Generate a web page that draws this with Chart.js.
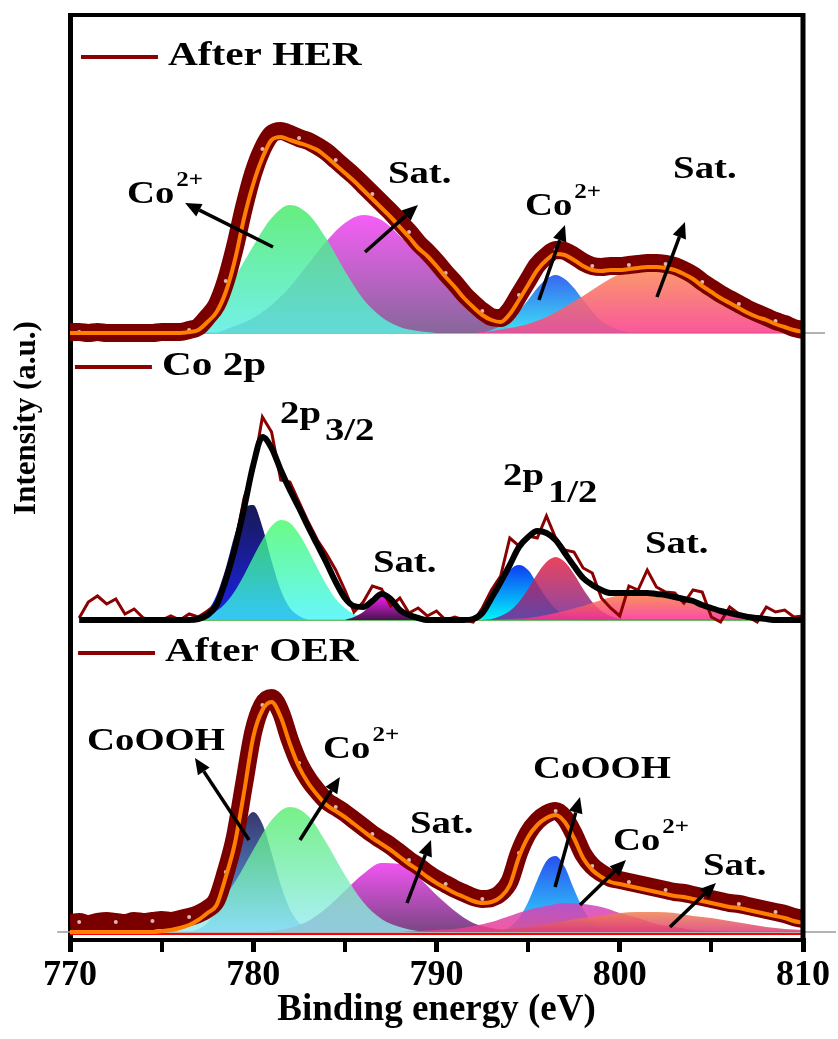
<!DOCTYPE html>
<html>
<head>
<meta charset="utf-8">
<script src="https://cdn.jsdelivr.net/npm/chart.js@4.4.1/dist/chart.umd.min.js"></script>
<style>
  html, body { margin: 0; padding: 0; background: #fff; }
  canvas { display: block; }
</style>
</head>
<body>
<canvas id="xps" width="838" height="1039"></canvas>
<script>
// binding energy grid for the measured spectra and their envelopes (eV)
const energy = [
  770, 770.5, 771, 771.5, 772, 772.5, 773, 773.5, 774, 774.5,
  775, 775.5, 776, 776.5, 777, 777.5, 778, 778.5, 779, 779.5,
  780, 780.5, 781, 781.5, 782, 782.5, 783, 783.5, 784, 784.5,
  785, 785.5, 786, 786.5, 787, 787.5, 788, 788.5, 789, 789.5,
  790, 790.5, 791, 791.5, 792, 792.5, 793, 793.5, 794, 794.5,
  795, 795.5, 796, 796.5, 797, 797.5, 798, 798.5, 799, 799.5,
  800, 800.5, 801, 801.5, 802, 802.5, 803, 803.5, 804, 804.5,
  805, 805.5, 806, 806.5, 807, 807.5, 808, 808.5, 809, 809.5,
  810
];

// vertical stacking of the three spectra (a.u.)
const herOffset = 607;
const co2pOffset = 320;
const oerOffset = 8;

// ---- After HER ----
const herRaw = [
  1, 1, 0, 1, 0, 0, 0, 0, 0, 0,
  1, 1, 1, 3, 6, 16, 28, 52, 86, 126,
  160, 184, 199, 202, 199, 195, 192, 187, 181, 173,
  165, 157, 148, 139, 130, 121, 111, 101, 90, 81,
  71, 60, 50, 39, 30, 22, 16, 15, 23, 38,
  53, 68, 77, 83, 82, 77, 71, 67, 66, 67,
  67, 68, 69, 70, 70, 69, 67, 63, 58, 51,
  45, 39, 34, 29, 24, 20, 16, 12, 9, 5,
  3
];
const herFit = [
  0, 0, 0, 0, 0, 0, 0, 0, 0, 0,
  0, 0, 0, 1, 3, 11, 21, 41, 73, 115,
  149, 175, 193, 196, 193, 190, 187, 183, 176, 168,
  160, 152, 143, 134, 125, 116, 106, 96, 85, 77,
  67, 56, 46, 35, 26, 18, 13, 11, 19, 33,
  48, 63, 73, 79, 78, 73, 67, 63, 62, 63,
  63, 64, 65, 66, 66, 65, 63, 59, 54, 47,
  41, 35, 30, 25, 20, 16, 13, 9, 6, 3,
  1
];
const herCo2a = [[774, 0], [775, 2], [776, 5], [777, 13], [778, 30], [779, 56], [780, 87], [781, 115], [782, 128], [783, 119], [784, 94], [785, 62], [786, 34], [787, 16], [788, 6], [789, 2], [790, 0]];
const herSata = [[778, 0], [779, 7], [780, 15], [781, 28], [782, 46], [783, 69], [784, 92], [785, 110], [786, 118], [787, 113], [788, 97], [789, 78], [790, 58], [791, 38], [792, 22], [793, 11], [794, 5], [795, 1], [796, 0]];
const herCo2b = [[792.5, 0], [793, 3], [794, 12], [795, 33], [795.5, 45], [796, 54], [796.5, 58], [797, 54], [797.5, 45], [798, 33], [799, 12], [800, 3], [801, 0]];
const herSatb = [[792, 0], [793, 2], [794, 5], [795, 9], [796, 16], [797, 26], [798, 37], [799, 49], [800, 59], [801, 65], [802, 65], [803, 59], [804, 49], [805, 37], [806, 26], [807, 16], [808, 9], [809, 5], [810, 2]];

// ---- Co 2p ----
const co2pRaw = [
  null, 2, 18, 24, 16, 21, 6, 11, 2, 0,
  0, 4, 0, 6, 3, 9, 16, 45, 74, 122,
  150, 203, 188, 140, 138, 118, 98, 80, 66, 50,
  30, 8, 18, 34, 31, 14, 22, 7, 12, 4,
  9, 0, 3, 0, -2, 12, 30, 44, 82, 74,
  84, 82, 104, 82, 70, 68, 52, 47, 22, 12,
  4, 34, 30, 50, 33, 28, 27, 17, 30, 28,
  3, -2, 13, 6, 3, -2, 13, 8, 10, 3,
  4
];
const co2pFit = [
  null, 0, 0, 0, 0, 0, 0, 0, 0, 0,
  0, 0, 0, 0, 1, 5, 15, 40, 72, 112,
  155, 183, 172, 150, 130, 112, 93, 75, 57, 38,
  22, 14, 13, 19, 26, 21, 10, 5, 2, 0,
  0, 0, 0, 0, 1, 7, 22, 38, 55, 73,
  83, 89, 87, 80, 67, 54, 42, 35, 30, 27,
  27, 27, 27, 27, 26, 25, 23, 21, 19, 15,
  12, 9, 7, 5, 3, 2, 1, 0, 0, 0,
  0
];
const co2pPeakA = [[776.5, 0], [777, 3], [777.5, 9], [778, 25], [778.5, 52], [779, 86], [779.5, 112], [780, 115], [780.5, 93], [781, 59], [781.5, 30], [782, 12], [782.5, 4], [783, 0]];
const co2pPeakB = [[776.5, 0], [777, 2], [777.5, 5], [778, 9], [778.5, 17], [779, 29], [779.5, 45], [780, 63], [780.5, 80], [781, 94], [781.5, 100], [782, 97], [782.5, 86], [783, 70], [783.5, 52], [784, 35], [784.5, 21], [785, 12], [785.5, 6], [786, 3], [786.5, 0]];
const co2pSatA = [[785, 0], [785.5, 3], [786, 8], [786.5, 17], [787, 23], [787.5, 20], [788, 12], [788.5, 5], [789, 2], [789.5, 0]];
const co2pPeakC = [[791.5, 0], [792, 4], [792.5, 11], [793, 22], [793.5, 36], [794, 50], [794.5, 55], [795, 50], [795.5, 36], [796, 22], [796.5, 11], [797, 4], [797.5, 1], [798, 0]];
const co2pPeakD = [[792.5, 0], [793, 1], [793.5, 4], [794, 9], [794.5, 18], [795, 31], [795.5, 46], [796, 58], [796.5, 63], [797, 58], [797.5, 46], [798, 31], [798.5, 18], [799, 9], [799.5, 4], [800, 1], [800.5, 0]];
const co2pSatB = [[793, 0], [794, 1], [795, 2], [796, 5], [797, 9], [798, 14], [799, 20], [800, 25], [801, 27], [802, 26], [803, 22], [804, 16], [805, 11], [806, 6], [807, 3], [808, 1], [809, 0]];

// ---- After OER ----
const oerRaw = [
  9, 10, 8, 10, 11, 10, 9, 11, 10, 11,
  12, 11, 13, 15, 18, 23, 32, 60, 95, 148,
  200, 227, 234, 220, 192, 169, 153, 141, 131, 125,
  119, 112, 105, 98, 92, 86, 79, 72, 66, 59,
  53, 48, 43, 39, 35, 33, 34, 39, 51, 79,
  99, 111, 118, 121, 114, 98, 78, 66, 59, 54,
  52, 50, 48, 46, 44, 42, 40, 39, 37, 35,
  33, 31, 29, 28, 26, 24, 22, 20, 18, 15,
  13
];
const oerFit = [
  0, 0, 0, 0, 0, 0, 0, 0, 0, 0,
  1, 2, 4, 7, 12, 19, 27, 55, 89, 140,
  195, 222, 230, 215, 188, 165, 149, 137, 127, 121,
  115, 108, 101, 94, 88, 82, 75, 68, 62, 55,
  49, 44, 39, 35, 31, 29, 30, 35, 47, 75,
  95, 107, 114, 117, 110, 94, 74, 62, 55, 50,
  48, 46, 44, 42, 40, 38, 36, 35, 33, 31,
  29, 27, 25, 24, 22, 20, 18, 16, 14, 11,
  9
];
const oerCoOOHa = [[776.5, 0], [777, 3], [777.5, 9], [778, 23], [778.5, 47], [779, 79], [779.5, 108], [780, 120], [780.5, 108], [781, 79], [781.5, 47], [782, 23], [782.5, 9], [783, 3], [783.5, 0]];
const oerCo2a = [[774, 0], [775, 1], [776, 4], [777, 11], [778, 26], [779, 50], [780, 82], [781, 112], [782, 125], [783, 116], [784, 89], [785, 57], [786, 30], [787, 13], [788, 5], [789, 1], [790, 0]];
const oerSata = [[780, 0], [781, 1], [782, 4], [783, 11], [784, 24], [785, 41], [786, 58], [787, 69], [788, 68], [789, 55], [790, 37], [791, 21], [792, 9], [793, 4], [794, 1], [795, 0]];
const oerCoOOHb = [[793, 0], [793.5, 1], [794, 5], [794.5, 14], [795, 30], [795.5, 52], [796, 71], [796.5, 76], [797, 65], [797.5, 43], [798, 23], [798.5, 9], [799, 3], [799.5, 1], [800, 0]];
const oerCo2b = [[788, 0], [789, 1], [790, 2], [791, 3], [792, 6], [793, 10], [794, 16], [795, 22], [796, 26], [797, 29], [798, 28], [799, 25], [800, 19], [801, 14], [802, 8], [803, 5], [804, 2], [805, 1], [806, 0]];
const oerSatb = [[789, 0], [791, 1], [792, 1], [793, 2], [794, 3], [795, 5], [796, 8], [797, 11], [798, 14], [799, 16], [800, 19], [801, 20], [802, 20], [803, 19], [804, 16], [805, 14], [806, 11], [807, 8], [808, 5], [809, 3], [810, 2]];

// baselines (energy span, level)
const herBase = [[770, 0], [811.2, 0]];
const co2pBase = [[776, 0], [809, 0]];
const oerBase = [[769.3, 0], [811.8, 0]];
const oerBaseRed = [[770, -2], [810, -2]];

const xTicks = [770, 780, 790, 800, 810];

// annotations, in data coordinates
const legendKeys = [
  [770.60, 774.80, herOffset + 276, 'After HER'],
  [770.27, 774.47, co2pOffset + 253, 'Co 2p'],
  [770.44, 774.64, oerOffset + 279, 'After OER']
];
const textLabels = [
  [773.11, herOffset + 130, 'co2', ''],
  [787.35, herOffset + 150, 'plain', 'Sat.'],
  [794.83, herOffset + 118, 'co2', ''],
  [802.91, herOffset + 155, 'plain', 'Sat.'],
  [781.46, co2pOffset + 197, 'sub', '3/2'],
  [793.63, co2pOffset + 135, 'sub', '1/2'],
  [786.53, co2pOffset + 48, 'plain', 'Sat.'],
  [801.38, co2pOffset + 67, 'plain', 'Sat.'],
  [770.93, oerOffset + 182, 'plain', 'CoOOH'],
  [783.81, oerOffset + 174, 'co2', ''],
  [788.55, oerOffset + 99, 'plain', 'Sat.'],
  [795.27, oerOffset + 154, 'plain', 'CoOOH'],
  [799.63, oerOffset + 82, 'co2', ''],
  [804.54, oerOffset + 57, 'plain', 'Sat.']
];
const arrows = [
  [781.08, herOffset + 86, 776.28, herOffset + 130],
  [786.10, herOffset + 81, 788.99, herOffset + 128],
  [795.59, herOffset + 33, 797.01, herOffset + 108],
  [802.03, herOffset + 36, 803.56, herOffset + 111],
  [779.77, oerOffset + 92, 776.82, oerOffset + 174],
  [782.55, oerOffset + 92, 784.73, oerOffset + 155],
  [788.39, oerOffset + 29, 789.70, oerOffset + 92],
  [796.47, oerOffset + 45, 797.83, oerOffset + 135],
  [797.83, oerOffset + 27, 800.34, oerOffset + 72],
  [802.74, oerOffset + 5, 805.25, oerOffset + 49]
];

const FONT = '"Liberation Serif", "Times New Roman", serif';
const STRETCH = 1.25;

function series(values, offset) {
  return energy.map((e, i) => ({ x: e, y: values[i] === null ? null : values[i] + offset }));
}
function pairs(list, offset) {
  return list.map(p => ({ x: p[0], y: p[1] + offset }));
}
function rgba(c, a) {
  return 'rgba(' + c[0] + ',' + c[1] + ',' + c[2] + ',' + a + ')';
}

function peak(list, offset, top, bottom, alpha, order) {
  const peakLevel = Math.max(...list.map(p => p[1])) + offset;
  return {
    data: pairs(list, offset),
    borderColor: 'rgba(0,0,0,0)',
    borderWidth: 1,
    pointRadius: 0,
    cubicInterpolationMode: 'monotone',
    fill: { value: offset },
    order: order,
    backgroundColor: function (ctx) {
      const chart = ctx.chart;
      if (!chart.chartArea) return rgba(top, alpha);
      const y = chart.scales.y;
      const g = chart.ctx.createLinearGradient(0, y.getPixelForValue(peakLevel), 0, y.getPixelForValue(offset));
      g.addColorStop(0, rgba(top, alpha));
      g.addColorStop(1, rgba(bottom, alpha));
      return g;
    }
  };
}

function rawBand(values, offset) {
  return {
    data: series(values, offset),
    borderColor: '#7a0000',
    borderWidth: 18,
    cubicInterpolationMode: 'monotone',
    pointRadius: c => (c.dataIndex % 4 === 1 ? 3 : 0),
    pointBackgroundColor: '#d9b8b8',
    pointBorderColor: '#7a0000',
    pointBorderWidth: 2,
    fill: false,
    clip: 0,
    order: 2
  };
}

function fitLine(values, offset, color, width) {
  return {
    data: series(values, offset),
    borderColor: color,
    borderWidth: width,
    cubicInterpolationMode: 'monotone',
    pointRadius: 0,
    fill: false,
    order: 1
  };
}

function baseLine(list, offset, color, width) {
  return {
    data: pairs(list, offset),
    borderColor: color,
    borderWidth: width,
    pointRadius: 0,
    fill: false,
    clip: false,
    order: 50
  };
}

const datasets = [
  baseLine(herBase, herOffset, '#9a9a9a', 1.5),
  baseLine(co2pBase, co2pOffset, '#35a835', 1.5),
  baseLine(oerBase, oerOffset, '#9a9a9a', 1.5),
  baseLine(oerBaseRed, oerOffset, '#ff0000', 2),

  peak(herSata, herOffset, [245, 80, 245], [125, 90, 145], 0.92, 14),
  peak(herCo2a, herOffset, [75, 235, 105], [90, 238, 228], 0.85, 13),
  peak(herCo2b, herOffset, [45, 95, 240], [50, 225, 245], 0.95, 12),
  peak(herSatb, herOffset, [250, 140, 85], [248, 65, 140], 0.88, 11),
  rawBand(herRaw, herOffset),
  fitLine(herFit, herOffset, '#ff8000', 4),

  peak(co2pPeakA, co2pOffset, [25, 25, 85], [25, 35, 235], 1, 14),
  peak(co2pPeakB, co2pOffset, [65, 250, 100], [60, 245, 250], 0.78, 13),
  peak(co2pSatA, co2pOffset, [235, 30, 235], [70, 20, 75], 1, 12),
  peak(co2pPeakC, co2pOffset, [15, 60, 245], [0, 245, 250], 1, 12),
  peak(co2pPeakD, co2pOffset, [230, 35, 65], [115, 40, 150], 0.85, 11),
  peak(co2pSatB, co2pOffset, [250, 130, 60], [250, 45, 150], 0.85, 10),
  {
    data: series(co2pRaw, co2pOffset),
    borderColor: '#8b0000',
    borderWidth: 3,
    pointRadius: 0,
    fill: false,
    order: 2
  },
  fitLine(co2pFit, co2pOffset, '#000000', 6),

  peak(oerCoOOHa, oerOffset, [55, 55, 110], [95, 170, 240], 1, 15),
  peak(oerSata, oerOffset, [240, 75, 240], [115, 60, 125], 0.95, 14),
  peak(oerCo2a, oerOffset, [85, 238, 105], [150, 235, 245], 0.8, 13),
  peak(oerCoOOHb, oerOffset, [40, 80, 240], [50, 220, 250], 1, 12),
  peak(oerCo2b, oerOffset, [205, 70, 195], [240, 60, 140], 0.85, 11),
  peak(oerSatb, oerOffset, [240, 130, 80], [220, 60, 120], 0.85, 10),
  rawBand(oerRaw, oerOffset),
  fitLine(oerFit, oerOffset, '#ff8000', 4)
];

function stretchedText(ctx, text, x, y, size) {
  ctx.save();
  ctx.translate(x, y);
  ctx.scale(STRETCH, 1);
  ctx.font = 'bold ' + size + 'px ' + FONT;
  ctx.textAlign = 'left';
  ctx.textBaseline = 'alphabetic';
  ctx.fillStyle = '#000';
  ctx.fillText(text, 0, 0);
  const w = ctx.measureText(text).width * STRETCH;
  ctx.restore();
  return w;
}

function drawArrow(ctx, x0, y0, x1, y1) {
  const ang = Math.atan2(y1 - y0, x1 - x0);
  const len = 16, half = 7;
  const bx = x1 - len * Math.cos(ang), by = y1 - len * Math.sin(ang);
  ctx.save();
  ctx.strokeStyle = '#000';
  ctx.fillStyle = '#000';
  ctx.lineWidth = 3.5;
  ctx.beginPath();
  ctx.moveTo(x0, y0);
  ctx.lineTo(bx, by);
  ctx.stroke();
  ctx.beginPath();
  ctx.moveTo(x1, y1);
  ctx.lineTo(bx + half * Math.sin(ang), by - half * Math.cos(ang));
  ctx.lineTo(bx - half * Math.sin(ang), by + half * Math.cos(ang));
  ctx.closePath();
  ctx.fill();
  ctx.restore();
}

const annotate = {
  id: 'annotate',
  afterDatasetsDraw(chart) {
    const { ctx, scales: { x, y } } = chart;
    legendKeys.forEach(k => {
      const ly = y.getPixelForValue(k[2]);
      ctx.save();
      ctx.strokeStyle = '#8b0000';
      ctx.lineWidth = 4;
      ctx.beginPath();
      ctx.moveTo(x.getPixelForValue(k[0]), ly);
      ctx.lineTo(x.getPixelForValue(k[1]), ly);
      ctx.stroke();
      ctx.restore();
      stretchedText(ctx, k[3], x.getPixelForValue(k[1]) + 10, ly + 8, 33);
    });
    textLabels.forEach(t => {
      const px = x.getPixelForValue(t[0]);
      const py = y.getPixelForValue(t[1]);
      if (t[2] === 'co2') {
        const w = stretchedText(ctx, 'Co', px, py, 31);
        stretchedText(ctx, '2+', px + w + 2, py - 17, 20);
      } else if (t[2] === 'sub') {
        const w = stretchedText(ctx, '2p', px, py, 31);
        stretchedText(ctx, t[3], px + w + 4, py + 17, 31);
      } else {
        stretchedText(ctx, t[3], px, py, 31);
      }
    });
    arrows.forEach(a => {
      drawArrow(ctx, x.getPixelForValue(a[0]), y.getPixelForValue(a[1]),
        x.getPixelForValue(a[2]), y.getPixelForValue(a[3]));
    });
  },
  afterDraw(chart) {
    const { ctx, chartArea: area } = chart;
    ctx.save();
    ctx.strokeStyle = '#000';
    ctx.lineWidth = 4;
    ctx.beginPath();
    ctx.moveTo(area.left - 2, area.top);
    ctx.lineTo(area.right + 2, area.top);
    ctx.stroke();
    ctx.lineWidth = 5;
    ctx.beginPath();
    ctx.moveTo(area.right, area.top - 2);
    ctx.lineTo(area.right, area.bottom + 2);
    ctx.stroke();
    // y axis title
    ctx.translate(27, 418);
    ctx.rotate(-Math.PI / 2);
    ctx.font = 'bold 31px ' + FONT;
    ctx.fillStyle = '#000';
    ctx.textAlign = 'center';
    ctx.textBaseline = 'middle';
    ctx.fillText('Intensity (a.u.)', 0, 0);
    ctx.restore();
  }
};

new Chart(document.getElementById('xps'), {
  type: 'line',
  data: { datasets: datasets },
  plugins: [annotate],
  options: {
    responsive: false,
    animation: false,
    devicePixelRatio: 1,
    events: [],
    layout: { padding: { top: 15, right: 35, left: 0, bottom: 0 } },
    plugins: { legend: { display: false }, tooltip: { enabled: false } },
    scales: {
      x: {
        type: 'linear',
        min: 770,
        max: 810,
        z: 1,
        afterFit: s => { s.height = 99; },
        ticks: {
          stepSize: 5,
          autoSkip: false,
          maxRotation: 0,
          padding: 2,
          color: '#000',
          font: { family: FONT, size: 36, weight: 'bold' },
          callback: v => (xTicks.includes(v) ? String(v) : '')
        },
        grid: {
          display: true,
          drawOnChartArea: false,
          drawTicks: true,
          tickLength: 12,
          color: '#000',
          lineWidth: c => (c.tick && xTicks.includes(c.tick.value) ? 5 : 4)
        },
        border: { display: true, width: 4, color: '#000' },
        title: {
          display: true,
          text: 'Binding energy (eV)',
          color: '#000',
          font: { family: FONT, size: 37, weight: 'bold' },
          padding: { top: 0, bottom: 6 }
        }
      },
      y: {
        min: 0,
        max: 925,
        z: 1,
        afterFit: s => { s.width = 70; },
        ticks: { display: false },
        grid: { display: false },
        border: { display: true, width: 5, color: '#000' }
      }
    }
  }
});
</script>
</body>
</html>
